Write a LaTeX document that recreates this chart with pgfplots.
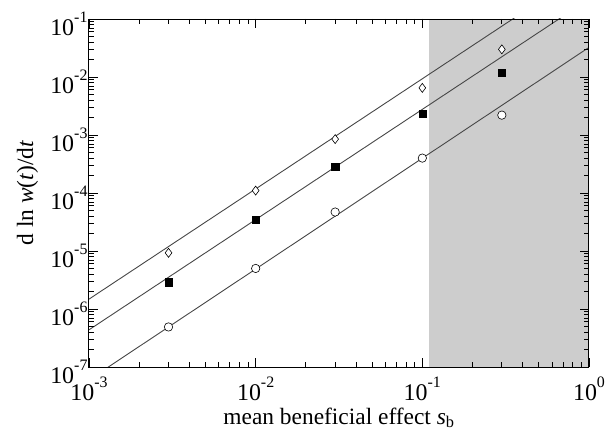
\documentclass[border=0pt]{standalone}
\usepackage{fontspec}
\setmainfont{Liberation Serif}
\usepackage{pgfplots}
\pgfplotsset{compat=1.18}
\definecolor{shade}{RGB}{205,205,205}
\definecolor{lin}{RGB}{70,70,70}
\newcommand{\tp}[1]{10\raisebox{0.55em}{\fontsize{16}{16}\selectfont #1}}
\begin{document}
\begin{tikzpicture}
\useasboundingbox (-89bp,-68bp) rectangle (527bp,367bp);
\begin{axis}[
  at={(0,0)}, anchor=south west,
  xmode=log, ymode=log,
  scale only axis, width=500bp, height=348bp,
  xmin=1e-3, xmax=1, ymin=1e-7, ymax=1e-1,
  axis on top,
  xtick={1e-3,1e-2,1e-1,1},
  xticklabels={\tp{-3},\tp{-2},\tp{-1},\tp{0}},
  ytick={1e-7,1e-6,1e-5,1e-4,1e-3,1e-2,1e-1},
  yticklabels={\tp{-7},\tp{-6},\tp{-5},\tp{-4},\tp{-3},\tp{-2},\tp{-1}},
  tick label style={font=\fontsize{24}{26}\selectfont},
  xticklabel style={yshift=-6bp},
  yticklabel style={xshift=2bp, yshift=-5bp},
  label style={font=\fontsize{23.5}{26}\selectfont},
  xlabel={mean beneficial effect \textit{s}\textsubscript{b}},
  ylabel={d ln \textit{w}(\textit{t})/d\textit{t}},
  xlabel style={at={(axis description cs:0.5,0)}, anchor=base, yshift=-57bp},
  ylabel style={at={(axis description cs:-0.123,0.5)}, anchor=center},
  major tick length=9bp, minor tick length=5bp,
  every tick/.style={black, line width=0.8pt},
  axis line style={line width=1pt},
  clip=true,
]
\addplot[draw=none, fill=shade] coordinates {(0.11,1e-7) (0.11,1e-1) (1,1e-1) (1,1e-7)} -- cycle;
% fitted lines
\addplot[lin, line width=0.9pt] coordinates {(1e-3,1.48e-6) (1,0.74)};
\addplot[lin, line width=0.9pt] coordinates {(1e-3,4.37e-7) (1,0.22)};
\addplot[lin, line width=0.9pt] coordinates {(1e-3,6.0e-8) (1,0.0324)};
% data
\addplot[only marks, mark=diamond*, mark size=4.5bp, mark options={fill=white, draw=black, line width=0.6pt}] coordinates {(0.003,9.3e-6) (0.01,1.1e-4) (0.03,8.5e-4) (0.1,6.5e-3) (0.3,3.0e-2)};
\addplot[only marks, mark=square*, mark size=3.6bp, mark options={fill=black, draw=black}] coordinates {(0.003,2.9e-6) (0.01,3.5e-5) (0.03,2.8e-4) (0.1,2.3e-3) (0.3,1.2e-2)};
\addplot[only marks, mark=*, mark size=4.2bp, mark options={fill=white, draw=black, line width=0.6pt}] coordinates {(0.003,4.9e-7) (0.01,5.0e-6) (0.03,4.7e-5) (0.1,4.0e-4) (0.3,2.2e-3)};
\end{axis}
\end{tikzpicture}
\end{document}
